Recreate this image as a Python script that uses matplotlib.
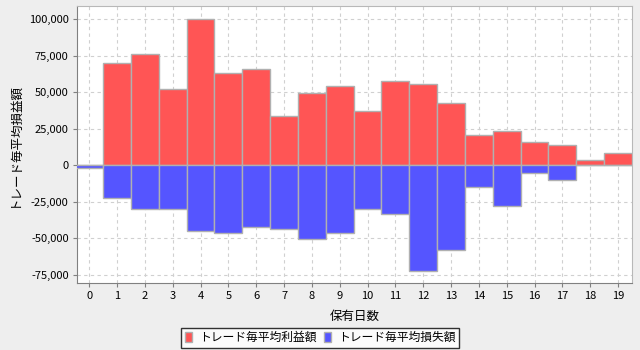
import numpy as np
import matplotlib
matplotlib.use("Agg")
import matplotlib.pyplot as plt

plt.rcParams['font.family'] = ['Noto Sans CJK JP', 'DejaVu Sans']

# 保有日数ごとのトレード平均損益
days = list(range(20))
profit = [0, 69900, 76000, 52000, 100500, 63500, 66200, 34000, 49800, 54600,
          37500, 58000, 55500, 42500, 20800, 23800, 16200, 14200, 3900, 8700]
loss = [-1800, -22600, -30100, -30100, -45200, -46600, -42500, -43400, -50200, -46600,
        -30100, -33600, -72100, -57800, -15100, -27600, -5500, -9800, 0, 0]
yticks = [-75000, -50000, -25000, 0, 25000, 50000, 75000, 100000]

fig = plt.figure(figsize=(6.4, 3.5), dpi=100, facecolor='#eeeeee')
ax = fig.add_axes([77 / 640, 1 - 283 / 350, 555 / 640, 277 / 350])
ax.set_facecolor('white')

ax.bar(days, profit, width=1.0, color='#ff5555', edgecolor='#b0b0b0', linewidth=1.0,
       label='トレード毎平均利益額', zorder=3)
ax.bar(days, loss, width=1.0, color='#5555ff', edgecolor='#b0b0b0', linewidth=1.0,
       label='トレード毎平均損失額', zorder=3)

ax.set_xlim(-0.44, 19.5)
ax.set_ylim(-80600, 109100)
ax.set_xticks(days)
ax.set_yticks(yticks)
ax.set_yticklabels([f'{v:,}' for v in yticks])
ax.grid(True, color='#d0d0d0', linestyle=(0, (3, 3)), linewidth=0.8, zorder=0)
ax.tick_params(labelsize=8, color='#808080', length=3, pad=3)

for side in ['left', 'bottom']:
    ax.spines[side].set_color('#808080')
for side in ['top', 'right']:
    ax.spines[side].set_color('#b8b8b8')

ax.set_xlabel('保有日数', fontsize=9, labelpad=6)
ax.set_ylabel('トレード毎平均損益額', fontsize=9, labelpad=6)

leg = fig.legend(loc='lower center', bbox_to_anchor=(0.5, 0.0), ncol=2, fontsize=8.5,
                 frameon=True, fancybox=False, handlelength=0.6, handleheight=1.0,
                 handletextpad=0.6, columnspacing=0.6, borderpad=0.3, borderaxespad=0.2)
leg.get_frame().set_edgecolor('black')
leg.get_frame().set_linewidth(1.0)

fig.savefig('out.png', dpi=100, facecolor=fig.get_facecolor())
